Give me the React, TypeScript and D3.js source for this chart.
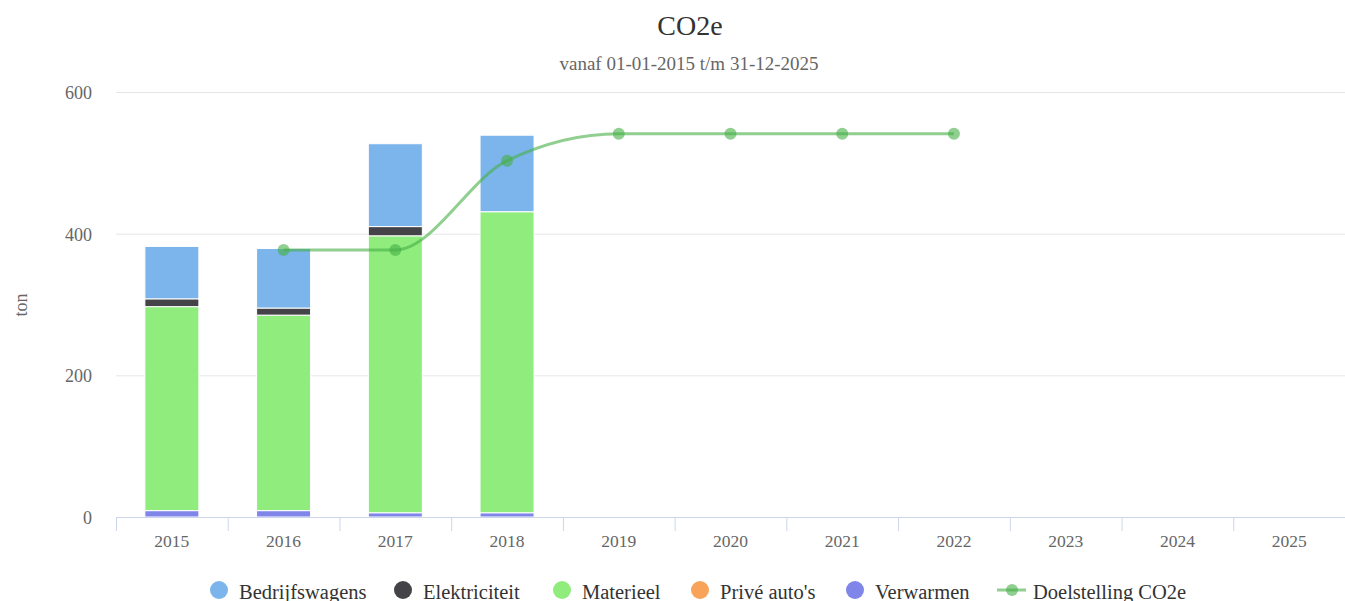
import React, { useEffect, useRef } from "react";
import * as d3 from "d3";

const years = ["2015", "2016", "2017", "2018", "2019", "2020", "2021", "2022", "2023", "2024", "2025"];

// stacked series, bottom to top
const verwarmen = [9, 9, 6, 6, 0, 0, 0, 0, 0, 0, 0];
const priveAutos = [0, 0, 0, 0, 0, 0, 0, 0, 0, 0, 0];
const materieel = [288, 276, 391, 425, 0, 0, 0, 0, 0, 0, 0];
const elektriciteit = [11, 10, 13, 0, 0, 0, 0, 0, 0, 0, 0];
const bedrijfswagens = [74, 84, 117, 108, 0, 0, 0, 0, 0, 0, 0];

const doelstelling: (number | null)[] = [null, 377, 377, 503, 541, 541, 541, 541, null, null, null];

const yTicks = [0, 200, 400, 600];

const series = [
  { key: "Verwarmen", values: verwarmen, color: "#8085e9" },
  { key: "Privé auto's", values: priveAutos, color: "#f7a35c" },
  { key: "Materieel", values: materieel, color: "#90ed7d" },
  { key: "Elektriciteit", values: elektriciteit, color: "#434348" },
  { key: "Bedrijfswagens", values: bedrijfswagens, color: "#7cb5ec" },
];

const legendItems = [
  { name: "Bedrijfswagens", color: "#7cb5ec", x: 219 },
  { name: "Elektriciteit", color: "#434348", x: 403 },
  { name: "Materieel", color: "#90ed7d", x: 562 },
  { name: "Privé auto's", color: "#f7a35c", x: 700 },
  { name: "Verwarmen", color: "#8085e9", x: 855 },
];

const lineColor = "rgba(70,175,70,0.6)";

const Chart: React.FC = () => {
  const ref = useRef<SVGSVGElement | null>(null);

  useEffect(() => {
    if (!ref.current) return;
    const svg = d3.select(ref.current);
    svg.selectAll("*").remove();

    const W = 1345;
    const left = 116;
    const right = 1345;
    const top = 92;
    const bottom = 517;
    const font = "'Liberation Serif', 'Times New Roman', Times, serif";

    const x = d3.scaleBand().domain(years).range([left, right]).padding(0);
    const y = d3.scaleLinear().domain([0, 600]).range([bottom, top]);

    // title
    svg.append("text").attr("x", 690).attr("y", 35).attr("text-anchor", "middle")
      .attr("font-family", font).attr("font-size", 28).attr("fill", "#333").text("CO2e");
    svg.append("text").attr("x", 689).attr("y", 70).attr("text-anchor", "middle")
      .attr("font-family", font).attr("font-size", 19).attr("fill", "#666")
      .text("vanaf 01-01-2015 t/m 31-12-2025");

    // grid
    svg.append("g").selectAll("line").data(yTicks.filter((t) => t > 0)).enter().append("line")
      .attr("x1", left).attr("x2", right)
      .attr("y1", (d) => y(d) + 0.5).attr("y2", (d) => y(d) + 0.5)
      .attr("stroke", "#e6e6e6").attr("stroke-width", 1);

    svg.append("g").selectAll("text").data(yTicks).enter().append("text")
      .attr("x", 92).attr("y", (d) => y(d) + 7).attr("text-anchor", "end")
      .attr("font-family", font).attr("font-size", 18).attr("fill", "#666")
      .text((d) => d);

    svg.append("text").attr("transform", "translate(27,305) rotate(-90)")
      .attr("text-anchor", "middle").attr("font-family", font).attr("font-size", 18)
      .attr("fill", "#666").text("ton");

    // stacked bars
    const rows = years.map((yr, i) => {
      const r: any = { year: yr };
      series.forEach((s) => (r[s.key] = s.values[i]));
      return r;
    });
    const stacked = d3.stack().keys(series.map((s) => s.key))(rows);
    const barW = 54;

    stacked.forEach((layer, li) => {
      svg.append("g").selectAll("rect")
        .data(layer.filter((d) => d[1] - d[0] > 0))
        .enter().append("rect")
        .attr("x", (d: any) => (x(d.data.year) as number) + x.bandwidth() / 2 - barW / 2)
        .attr("y", (d) => y(d[1]))
        .attr("width", barW)
        .attr("height", (d) => y(d[0]) - y(d[1]))
        .attr("fill", series[li].color)
        .attr("stroke", "#fff").attr("stroke-width", 1);
    });

    // x axis
    svg.append("line").attr("x1", left).attr("x2", right).attr("y1", bottom + 0.5).attr("y2", bottom + 0.5)
      .attr("stroke", "#ccd6eb");
    const tickX = years.map((yr) => x(yr) as number);
    svg.append("g").selectAll("line").data(tickX).enter().append("line")
      .attr("x1", (d) => d + 0.5).attr("x2", (d) => d + 0.5)
      .attr("y1", bottom).attr("y2", bottom + 14).attr("stroke", "#ccd6eb");
    svg.append("g").selectAll("text").data(years).enter().append("text")
      .attr("x", (d) => (x(d) as number) + x.bandwidth() / 2).attr("y", 547)
      .attr("text-anchor", "middle").attr("font-family", font).attr("font-size", 17.5)
      .attr("fill", "#666").text((d) => d);

    // target line
    const pts = years
      .map((yr, i) => ({ yr, v: doelstelling[i] }))
      .filter((d) => d.v !== null) as { yr: string; v: number }[];
    const line = d3.line<{ yr: string; v: number }>()
      .x((d) => (x(d.yr) as number) + x.bandwidth() / 2)
      .y((d) => y(d.v))
      .curve(d3.curveMonotoneX);
    svg.append("path").attr("d", line(pts) as string).attr("fill", "none")
      .attr("stroke", lineColor).attr("stroke-width", 3);
    svg.append("g").selectAll("circle").data(pts).enter().append("circle")
      .attr("cx", (d) => (x(d.yr) as number) + x.bandwidth() / 2).attr("cy", (d) => y(d.v))
      .attr("r", 6).attr("fill", lineColor);

    // legend
    const lg = svg.append("g");
    legendItems.forEach((it) => {
      lg.append("circle").attr("cx", it.x).attr("cy", 590).attr("r", 9).attr("fill", it.color);
      lg.append("text").attr("x", it.x + 20).attr("y", 599).attr("font-family", font)
        .attr("font-size", 20.5).attr("fill", "#333").text(it.name);
    });
    lg.append("line").attr("x1", 997).attr("x2", 1026).attr("y1", 590).attr("y2", 590)
      .attr("stroke", lineColor).attr("stroke-width", 3);
    lg.append("circle").attr("cx", 1012).attr("cy", 590).attr("r", 6).attr("fill", lineColor);
    lg.append("text").attr("x", 1033).attr("y", 599).attr("font-family", font)
      .attr("font-size", 20.5).attr("fill", "#333").text("Doelstelling CO2e");
  }, []);

  return <svg ref={ref} width={1345} height={601} style={{ display: "block" }} />;
};

export default function App() {
  return (
    <div style={{ position: "fixed", left: 0, top: 0, background: "#fff" }}>
      <Chart />
    </div>
  );
}
